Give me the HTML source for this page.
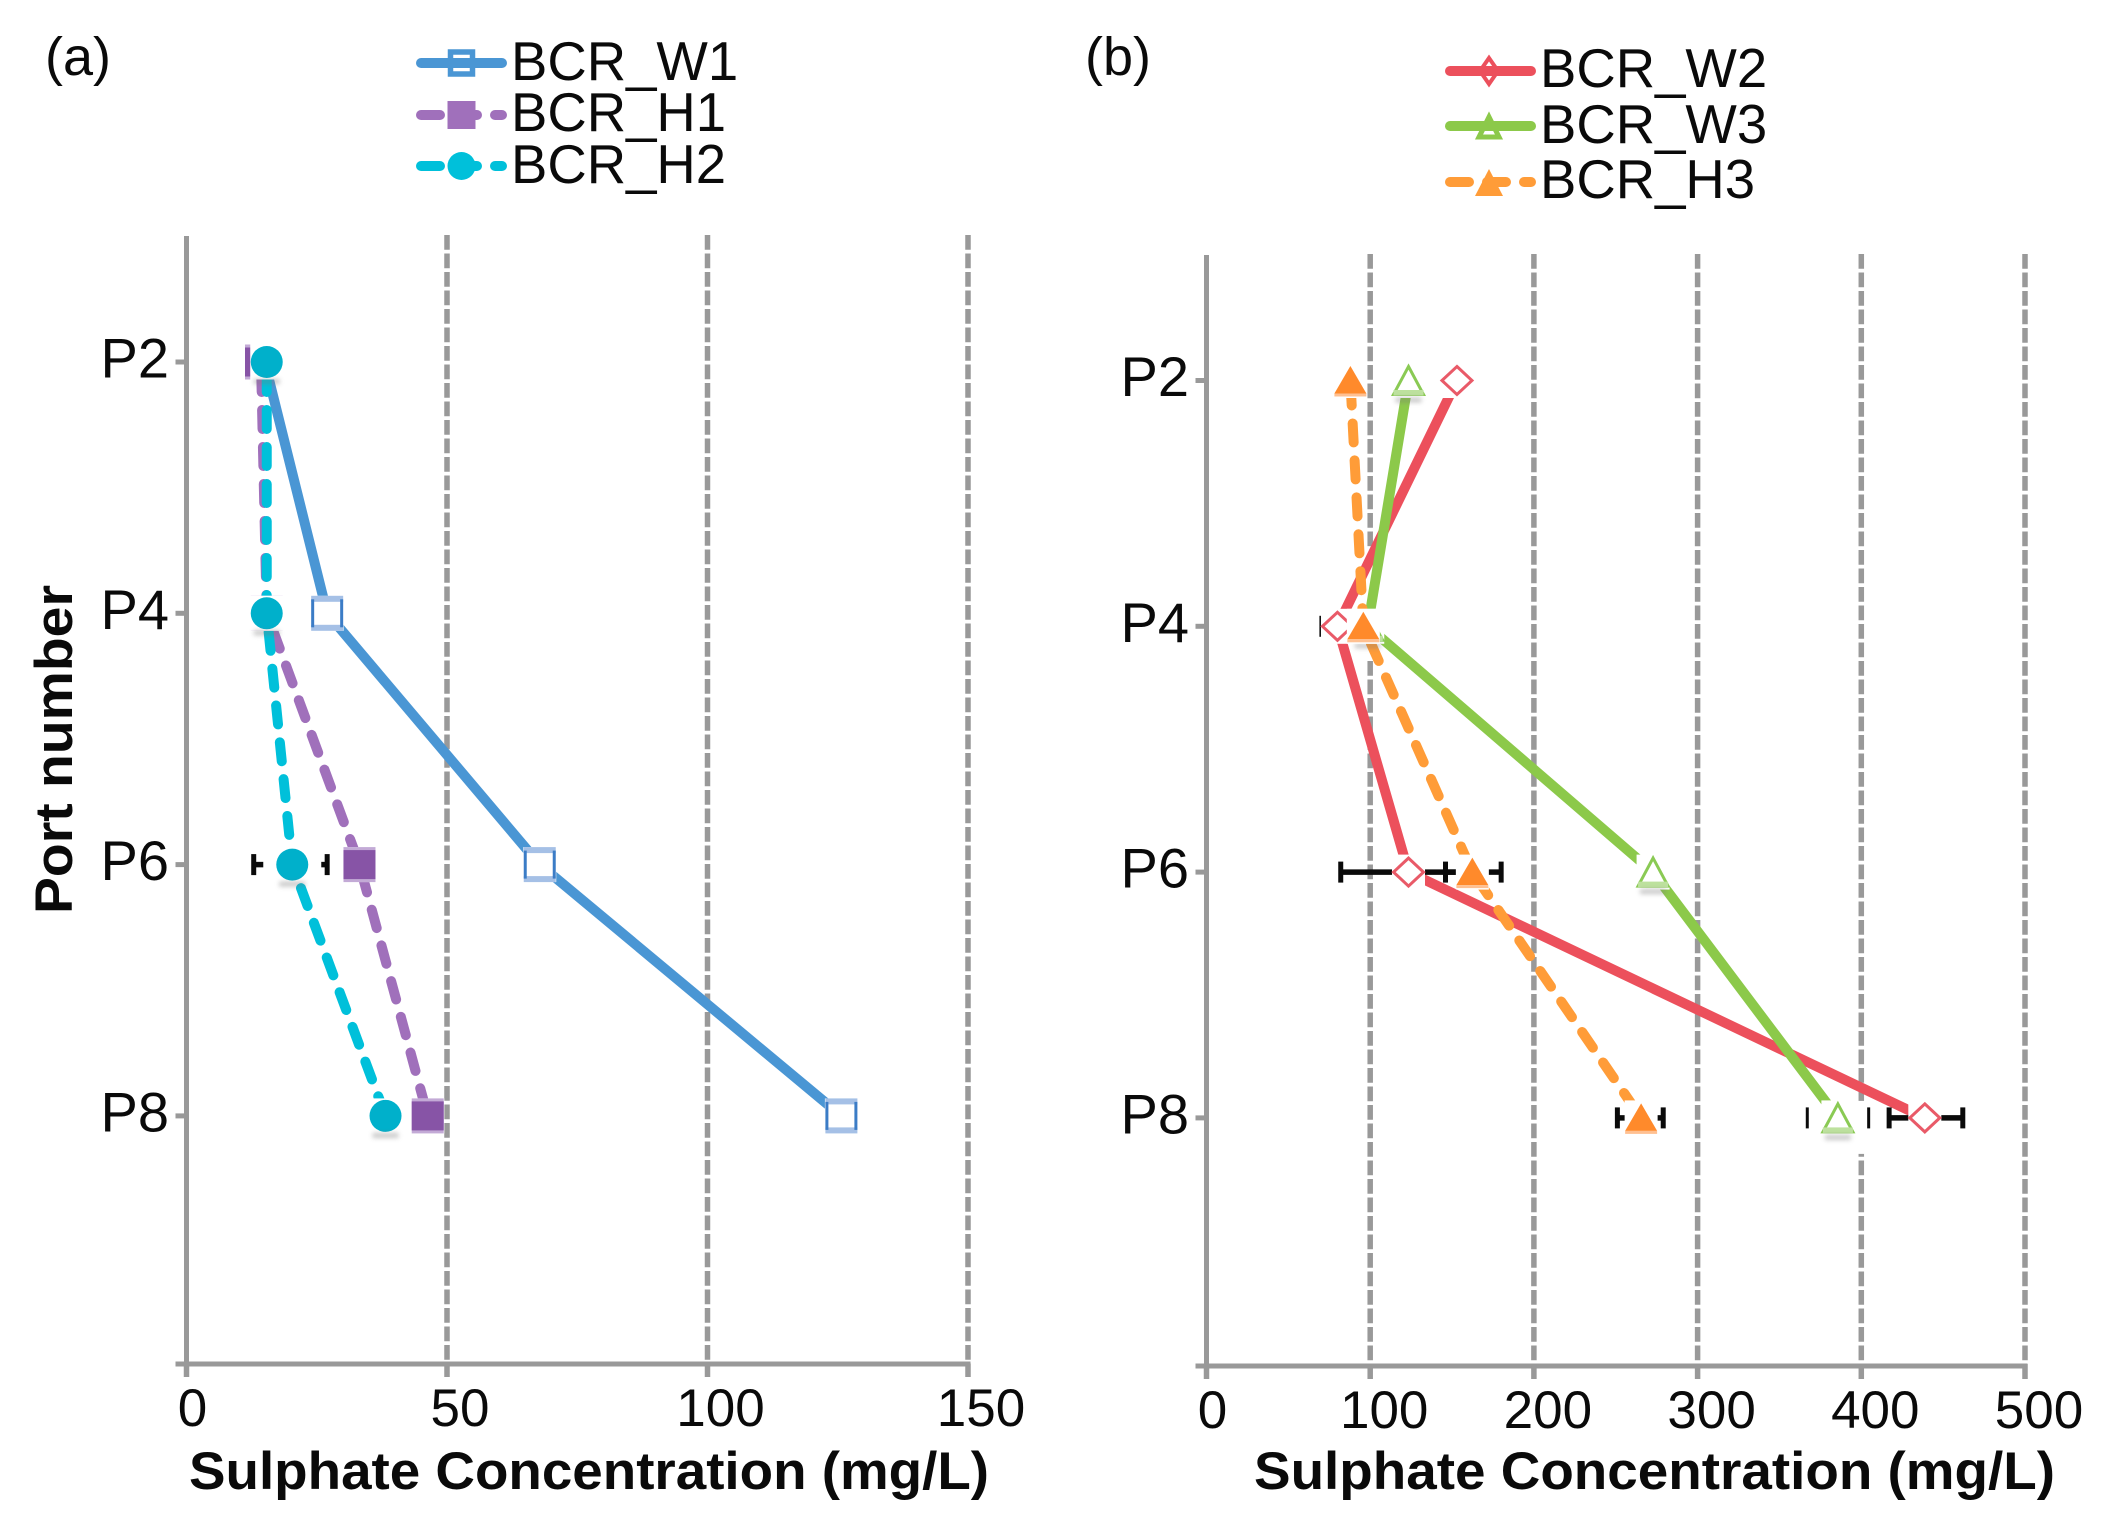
<!DOCTYPE html>
<html lang="en">
<head>
<meta charset="utf-8">
<title>Sulphate concentration by port</title>
<style>
  html, body { margin: 0; padding: 0; background: #fff; }
  svg { display: block; }
  text { font-family: "Liberation Sans", sans-serif; fill: #0a0a0a; }
  .big { font-size: 53px; }
  .legend { font-size: 54.5px; }
  .port { font-size: 56px; }
  .panel { font-size: 54px; }
  .bold { font-size: 53px; font-weight: bold; }
</style>
</head>
<body>
<svg id="chart" xmlns="http://www.w3.org/2000/svg" width="2101" height="1522" viewBox="0 0 2101 1522">
  <defs>
    <filter id="soft" x="-50%" y="-100%" width="200%" height="300%"><feGaussianBlur stdDeviation="2.5"/></filter>
  </defs>
  <rect x="0" y="0" width="2101" height="1522" fill="#fff"/>

  <text class="panel" x="45" y="75">(a)</text>
  <text class="panel" x="1085" y="75">(b)</text>

  <g id="panelA"></g>
  <g id="panelB"></g>

  <text class="bold" x="189" y="1489" textLength="800" lengthAdjust="spacingAndGlyphs">Sulphate Concentration (mg/L)</text>
  <text class="bold" x="1254" y="1489" textLength="801" lengthAdjust="spacingAndGlyphs">Sulphate Concentration (mg/L)</text>
  <text class="bold" transform="translate(72,914) rotate(-90)" textLength="329" lengthAdjust="spacingAndGlyphs">Port number</text>

  <g>
    <g>
      <line x1="421" y1="63" x2="502" y2="63" stroke="#4a96d4" stroke-width="10" stroke-linecap="round"/>
      <rect x="450.5" y="52" width="22" height="22" fill="none" stroke="#4a96d4" stroke-width="5.5"/>
      <text class="legend" x="511" y="80">BCR_W1</text>
    </g>
    <g>
      <line x1="421" y1="115" x2="502" y2="115" stroke="#a070bb" stroke-width="10" stroke-linecap="round" stroke-dasharray="19 18"/>
      <rect x="447.5" y="101" width="28" height="28" fill="#a070bb"/>
      <text class="legend" x="511" y="131">BCR_H1</text>
    </g>
    <g>
      <line x1="421" y1="166" x2="502" y2="166" stroke="#00c0da" stroke-width="10" stroke-linecap="round" stroke-dasharray="19 18"/>
      <circle cx="461.5" cy="166" r="14" fill="#00c0da"/>
      <text class="legend" x="511" y="183">BCR_H2</text>
    </g>
  </g>

  <g>
    <g>
      <line x1="1450" y1="71" x2="1531" y2="71" stroke="#ec505c" stroke-width="10" stroke-linecap="round"/>
      <polygon points="1489,58 1498,71 1489,84 1480,71" fill="none" stroke="#ec505c" stroke-width="4"/>
      <text class="legend" x="1540" y="87">BCR_W2</text>
    </g>
    <g>
      <line x1="1450" y1="126" x2="1531" y2="126" stroke="#8cc94a" stroke-width="10" stroke-linecap="round"/>
      <polygon points="1489,117 1499,137 1479,137" fill="none" stroke="#8cc94a" stroke-width="5"/>
      <text class="legend" x="1540" y="143">BCR_W3</text>
    </g>
    <g>
      <line x1="1450" y1="182" x2="1531" y2="182" stroke="#ff9c38" stroke-width="10" stroke-linecap="round" stroke-dasharray="19 18"/>
      <polygon points="1489,169 1503,196 1475,196" fill="#ff9c38"/>
      <text class="legend" x="1540" y="198">BCR_H3</text>
    </g>
  </g>
</svg>

<script>
// ---- chart data ----
const ports = ['P2', 'P4', 'P6', 'P8'];
const ticksA = [0, 50, 100, 150];
const ticksB = [0, 100, 200, 300, 400, 500];

const bcrW1 = [15, 27, 67.8, 125.7];
const bcrH1 = [14.3, 15.4, 33.2, 46.3];
const bcrH2 = [15.4, 15.4, 20.3, 38.2];
const bcrH2Low = [null, null, 12.9, null];
const bcrH2High = [null, null, 27, null];

const bcrW2 = [153, 80, 123.4, 438.8];
const bcrW2Low = [null, 70.5, 82, 417];
const bcrW2High = [null, 91, 164, 462];
const bcrW3 = [123.4, 98.5, 272.8, 385.7];
const bcrW3Low = [null, null, null, 367];
const bcrW3High = [null, null, null, 404.5];
const bcrH3 = [87.9, 95.8, 162.4, 265.5];
const bcrH3Low = [null, null, 146, 251];
const bcrH3High = [null, null, 180, 279];

// ---- scales ----
const xA = v => 186.5 + v * 5.21;
const xB = v => 1206.5 + v * 1.637;
const yA = i => 362 + i * 251.3;
const yB = i => 380.5 + i * 245.8;

const NS = 'http://www.w3.org/2000/svg';
const GRAY = '#999999';

function make(parent, tag, attrs) {
  const n = document.createElementNS(NS, tag);
  for (const k in attrs) n.setAttribute(k, attrs[k]);
  parent.appendChild(n);
  return n;
}

function drawMarker(parent, kind, cx, cy) {
  make(parent, 'rect', { x: cx - 16.5, y: cy - 17.5, width: 33, height: 35, fill: '#fff' });
  if (kind === 'open-square') {
    make(parent, 'rect', { x: cx - 16, y: cy - 17.5, width: 32, height: 6, fill: '#a5c0e6' });
    make(parent, 'rect', { x: cx - 16, y: cy + 11.5, width: 32, height: 6, fill: '#a5c0e6' });
    make(parent, 'rect', { x: cx - 16, y: cy - 14, width: 3, height: 28, fill: '#3b7cc6' });
    make(parent, 'rect', { x: cx + 13, y: cy - 14, width: 3, height: 28, fill: '#3b7cc6' });
  } else if (kind === 'square') {
    make(parent, 'rect', { x: cx - 16, y: cy - 17.5, width: 32, height: 35, fill: '#c3aad6' });
    make(parent, 'rect', { x: cx - 16, y: cy - 14.5, width: 32, height: 29, fill: '#8754a6' });
  } else if (kind === 'circle') {
    make(parent, 'circle', { cx: cx, cy: cy, r: 16, fill: '#00b0cb' });
  } else if (kind === 'diamond') {
    make(parent, 'polygon', { points: [cx, cy - 14, cx + 15, cy, cx, cy + 14, cx - 15, cy].join(' '), fill: '#fff', stroke: '#e95a68', 'stroke-width': 3 });
  } else if (kind === 'open-triangle') {
    make(parent, 'polygon', { points: [cx, cy - 14, cx + 15, cy + 14, cx - 15, cy + 14].join(' '), fill: '#fff', stroke: '#8aca54', 'stroke-width': 3 });
    make(parent, 'rect', { x: cx - 15, y: cy + 9.5, width: 30, height: 5.5, fill: '#bde19e' });
  } else if (kind === 'triangle') {
    make(parent, 'polygon', { points: [cx, cy - 14.5, cx + 16, cy + 13, cx - 16, cy + 13].join(' '), fill: '#ff8a2b' });
    make(parent, 'rect', { x: cx - 16, y: cy + 13, width: 32, height: 3, fill: '#ffc091' });
  }
}

function drawPanel(root, panelId, cfg) {
  const x = cfg.x, y = cfg.y;

  // gridlines
  cfg.ticks.forEach(t => {
    if (t !== 0) {
      const grid = make(root, 'line', { x1: x(t), x2: x(t), y1: cfg.top, y2: cfg.bottom, stroke: GRAY, 'stroke-width': 5.5, 'stroke-dasharray': '14.8 3.7' });
      
      
    }
  });

  // white gaps where the source image erased part of a gridline
  cfg.gaps.forEach(g => {
    const gap = make(root, 'rect', { x: x(g.tick) - 5, y: y(g.port) + g.from, width: 10, height: g.to - g.from, fill: '#fff' });
    
    
  });

  // axes
  const yAxis = make(root, 'line', { x1: x(0), x2: x(0), y1: cfg.top + 1, y2: cfg.bottom + 2.5, stroke: GRAY, 'stroke-width': 5 });
  
  
  const xAxis = make(root, 'line', { x1: x(0) - 11, x2: x(cfg.ticks[cfg.ticks.length - 1]) + 2.5, y1: cfg.bottom, y2: cfg.bottom, stroke: GRAY, 'stroke-width': 5 });
  
  

  // x ticks and labels
  cfg.ticks.forEach(t => {
    const tick = make(root, 'line', { x1: x(t), x2: x(t), y1: cfg.bottom, y2: cfg.bottom + 13, stroke: GRAY, 'stroke-width': 5.5 });
    
    
    const label = make(root, 'text', { x: x(t) + (t === 0 ? 6 : cfg.labelShift), y: cfg.bottom + 62, 'text-anchor': 'middle', 'class': 'big' });
    label.textContent = String(t);
    
    
  });

  // y ticks and labels
  ports.forEach((p, i) => {
    const tick = make(root, 'line', { x1: x(0) - 11, x2: x(0), y1: y(i), y2: y(i), stroke: GRAY, 'stroke-width': 5 });
    
    
    const label = make(root, 'text', { x: x(0) - 86, y: y(i) + 15.5, 'class': 'port' });
    label.textContent = p;
    
    
  });

  // series lines
  cfg.series.forEach(s => {
    const pts = s.values.map((v, i) => x(v) + ',' + y(i)).join(' ');
    const line = make(root, 'polyline', { points: pts, fill: 'none', stroke: s.color, 'stroke-width': 10, 'stroke-linejoin': 'round' });
    if (s.dashed) {
      line.setAttribute('stroke-dasharray', '19 18');
      line.setAttribute('stroke-dashoffset', cfg.dashOffset);
      line.setAttribute('stroke-linecap', 'round');
    }
    
    
  });

  // error bars
  cfg.series.forEach(s => {
    if (!s.low) return;
    s.values.forEach((v, i) => {
      if (s.low[i] === null) return;
      const cx = x(v), cy = y(i), lo = x(s.low[i]), hi = x(s.high[i]);
      const bar = make(root, 'g', {});
      
      
      if (lo < cx - s.errGap) make(bar, 'line', { x1: lo, x2: cx - s.errGap, y1: cy, y2: cy, stroke: '#0a0a0a', 'stroke-width': 5.5 });
      if (hi > cx + s.errGap) make(bar, 'line', { x1: cx + s.errGap, x2: hi, y1: cy, y2: cy, stroke: '#0a0a0a', 'stroke-width': 5.5 });
      make(bar, 'line', { x1: lo, x2: lo, y1: cy - 10.5, y2: cy + 10.5, stroke: '#0a0a0a', 'stroke-width': s.capWidth });
      make(bar, 'line', { x1: hi, x2: hi, y1: cy - 10.5, y2: cy + 10.5, stroke: '#0a0a0a', 'stroke-width': s.capWidth });
    });
  });

  // markers
  cfg.series.forEach(s => {
    s.values.forEach((v, i) => {
      const m = make(root, 'g', {});
      
      
      drawMarker(m, s.marker, x(v), y(i));
      if (s.shadow) make(m, 'rect', { x: x(v) - 13, y: y(i) + 17, width: 26, height: 5, fill: '#777', opacity: 0.4, filter: 'url(#soft)' });
    });
  });
}

const panelA = document.getElementById('panelA');
const panelB = document.getElementById('panelB');

drawPanel(panelA, 'panel-a', {
  x: xA, y: yA, ticks: ticksA, top: 235, bottom: 1364, labelShift: 13, dashOffset: 26, gaps: [],
  series: [
    { name: 'bcr-w1', values: bcrW1, color: '#4a96d4', dashed: false, marker: 'open-square' },
    { name: 'bcr-h1', values: bcrH1, color: '#a070bb', dashed: true, marker: 'square' },
    { name: 'bcr-h2', values: bcrH2, low: bcrH2Low, high: bcrH2High, errGap: 29, capWidth: 5, color: '#00c0da', dashed: true, marker: 'circle', shadow: true }
  ]
});

drawPanel(panelB, 'panel-b', {
  x: xB, y: yB, ticks: ticksB, top: 254, bottom: 1366, labelShift: 14, dashOffset: 31,
  gaps: [
    { tick: 100, port: 1, from: -80, to: 32 },
    { tick: 400, port: 3, from: -17, to: 36 }
  ],
  series: [
    { name: 'bcr-w2', values: bcrW2, low: bcrW2Low, high: bcrW2High, errGap: 16, capWidth: 5, color: '#ec505c', dashed: false, marker: 'diamond' },
    { name: 'bcr-w3', values: bcrW3, low: bcrW3Low, high: bcrW3High, errGap: 31, capWidth: 3, color: '#8cc94a', dashed: false, marker: 'open-triangle', shadow: true },
    { name: 'bcr-h3', values: bcrH3, low: bcrH3Low, high: bcrH3High, errGap: 16, capWidth: 5, color: '#ff9c38', dashed: true, marker: 'triangle' }
  ]
});
</script>
</body>
</html>
